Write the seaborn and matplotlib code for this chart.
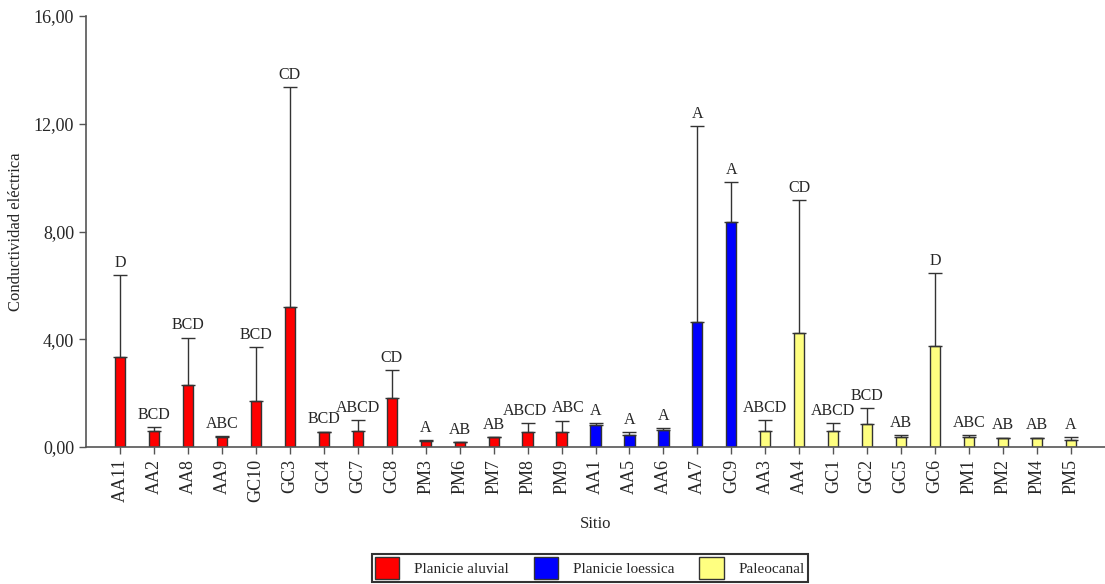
import matplotlib
matplotlib.use("Agg")
import matplotlib.pyplot as plt
import seaborn as sns
import numpy as np
import pandas as pd
from matplotlib.patches import Patch
from matplotlib.ticker import FuncFormatter

sites = ["AA11", "AA2", "AA8", "AA9", "GC10", "GC3", "GC4", "GC7", "GC8", "PM3",
         "PM6", "PM7", "PM8", "PM9", "AA1", "AA5", "AA6", "AA7", "GC9", "AA3",
         "AA4", "GC1", "GC2", "GC5", "GC6", "PM1", "PM2", "PM4", "PM5"]
groups = (["Planicie aluvial"] * 14 + ["Planicie loessica"] * 5 + ["Paleocanal"] * 10)
means = [3.34, 0.59, 2.30, 0.38, 1.72, 5.19, 0.57, 0.59, 1.81, 0.24,
         0.19, 0.36, 0.54, 0.54, 0.82, 0.45, 0.63, 4.63, 8.34, 0.59,
         4.24, 0.59, 0.85, 0.38, 3.75, 0.38, 0.35, 0.35, 0.26]
upper = [6.38, 0.74, 4.06, 0.40, 3.72, 13.37, 0.57, 0.99, 2.86, 0.26,
         0.19, 0.38, 0.90, 0.98, 0.90, 0.54, 0.69, 11.92, 9.83, 0.99,
         9.16, 0.90, 1.44, 0.45, 6.47, 0.45, 0.35, 0.35, 0.38]
letters = ["D", "BCD", "BCD", "ABC", "BCD", "CD", "BCD", "ABCD", "CD", "A",
           "AB", "AB", "ABCD", "ABC", "A", "A", "A", "A", "A", "ABCD",
           "CD", "ABCD", "BCD", "AB", "D", "ABC", "AB", "AB", "A"]
group_names = ["Planicie aluvial", "Planicie loessica", "Paleocanal"]
group_colors = ["#FF0000", "#0000FF", "#FFFF80"]
y_ticks = [0, 4, 8, 12, 16]

# small horizontal nudges (points) for crowded letter labels
label_nudge = {"PM8": -2, "PM9": 5}

df = pd.DataFrame({"Sitio": sites, "Grupo": groups, "CE": means})

sns.set_style("white")
plt.rcParams["font.family"] = ["Liberation Serif", "DejaVu Serif"]

fig = plt.figure(figsize=(11.05, 5.84), dpi=100)
ax = fig.add_axes([86 / 1105, 1 - 447 / 584, 1 - 86 / 1105, (447 - 16) / 584])

pal = dict(zip(group_names, group_colors))
sns.barplot(data=df, x="Sitio", y="CE", hue="Grupo", palette=pal, dodge=False,
            width=0.30, order=sites, hue_order=group_names, legend=False,
            saturation=1, edgecolor="#333333", linewidth=1.0, ax=ax)

xs = np.arange(len(sites))
m = np.array(means)
u = np.array(upper)
ax.errorbar(xs, m, yerr=[np.zeros_like(m), u - m], fmt="none", ecolor="#333333",
            elinewidth=1.0, capsize=5, capthick=1.0, zorder=1)

for x, top, lab, site in zip(xs, u, letters, sites):
    ax.annotate(lab, (x, top), xytext=(label_nudge.get(site, 0), 3),
                textcoords="offset points", ha="center", va="bottom", fontsize=11.5)

ax.set_xlim(-1, len(sites))
ax.set_ylim(0, 16)
ax.set_yticks(y_ticks)
ax.yaxis.set_major_formatter(FuncFormatter(lambda v, p: f"{v:.2f}".replace(".", ",")))
ax.tick_params(axis="y", labelsize=13, length=5, width=1, color="#555555", direction="out", left=True)
ax.tick_params(axis="x", labelsize=13, length=5, width=1, color="#555555", direction="out",
               bottom=True, rotation=90)
for s in ["top", "right"]:
    ax.spines[s].set_visible(False)
for s in ["left", "bottom"]:
    ax.spines[s].set_color("#555555")
    ax.spines[s].set_linewidth(1.2)

ax.set_xlabel("Sitio", fontsize=12, labelpad=10)
ax.set_ylabel("Conductividad eléctrica", fontsize=12)
ax.yaxis.set_label_coords(-62 / 1019, 0.5)

handles = [Patch(facecolor=c, edgecolor="#333333", label=n) for n, c in zip(group_names, group_colors)]
leg = fig.legend(handles=handles, loc="lower center", bbox_to_anchor=(590 / 1105, 0.0), ncol=3,
                 frameon=True, fancybox=False, edgecolor="black", fontsize=11,
                 handlelength=1.6, handleheight=1.8, handletextpad=1.0, columnspacing=1.6,
                 borderpad=0.2, borderaxespad=0.15)
leg.get_frame().set_linewidth(1.5)

fig.savefig("out.png", dpi=100)
